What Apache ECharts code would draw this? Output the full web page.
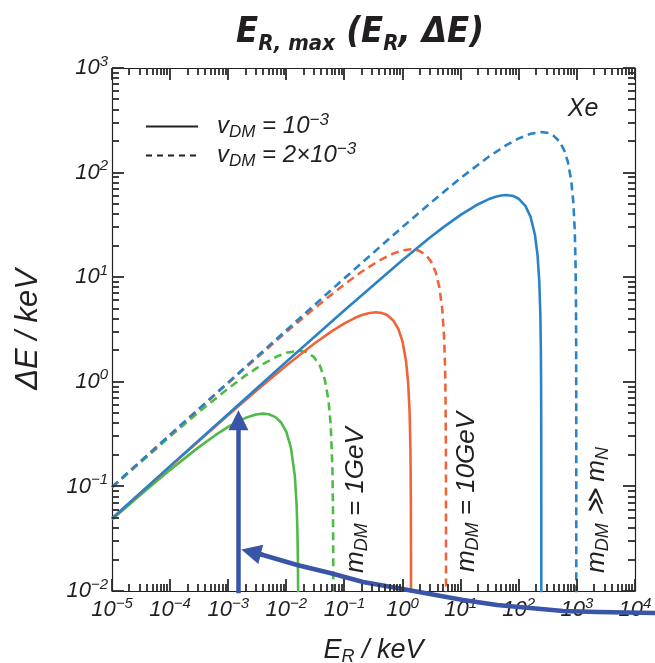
<!DOCTYPE html>
<html>
<head>
<meta charset="utf-8">
<script src="https://cdn.jsdelivr.net/npm/echarts@6/dist/echarts.min.js"></script>
<style>
  html, body { margin: 0; padding: 0; background: #ffffff; }
  #chart { width: 655px; height: 663px; }
</style>
</head>
<body>
<div id="chart"></div>
<script>
// Maximal energy deposit ΔE (keV) against nuclear recoil energy E_R (keV), Xe target.
// Each curve: [E_R, ΔE] pairs.

// m_DM >> m_N
const heavySlow = [[1e-5,0.0494],[1e-4,0.1562],[1e-3,0.4929],[1e-2,1.552],[0.1,4.839],[1,14.62],[3,24.05],[5,29.93],[10,39.39],[20,49.85],[30,55.55],[40,58.79],[50,60.45],[61,61.0],[80,59.7],[100,56.2],[130,48.1],[160,37.6],[190,25.3],[210,16.4],[225,9.3],[235,4.45],[240,1.98],[242,0.99],[243,0.49],[243.6,0.19],[243.9,0.04],[243.97,0.005]];
const heavyFast = [[1e-5,0.0988],[1e-4,0.3124],[1e-3,0.987],[1e-2,3.114],[0.1,9.779],[1,30.24],[3,51.11],[10,88.79],[30,141.1],[60,182.0],[100,212.4],[160,235.2],[244,244.0],[320,238.8],[400,224.8],[500,198.5],[600,165.2],[700,126.5],[800,83.6],[870,51.4],[920,27.5],[950,12.9],[965,5.45],[972,1.97],[975,0.47],[975.8,0.07],[975.93,0.005]];

// m_DM = 10 GeV
const m10Slow = [[1e-5,0.04927],[1e-4,0.1549],[1e-3,0.4807],[3e-3,0.816],[1e-2,1.430],[3e-2,2.309],[0.06,3.034],[0.1,3.619],[0.15,4.070],[0.2,4.345],[0.27,4.552],[0.35,4.621],[0.45,4.538],[0.55,4.324],[0.7,3.829],[0.85,3.181],[1.0,2.42],[1.15,1.571],[1.25,0.964],[1.32,0.522],[1.36,0.264],[1.38,0.133],[1.39,0.068],[1.397,0.021],[1.3995,0.005]];
const m10Fast = [[1e-5,0.0987],[1e-4,0.3111],[1e-3,0.9747],[1e-2,2.992],[3e-2,5.015],[0.1,8.559],[0.2,11.33],[0.4,14.48],[0.7,16.90],[1.0,18.04],[1.4,18.48],[1.9,17.98],[2.5,16.39],[3.1,14.08],[3.7,11.25],[4.3,8.02],[4.8,5.08],[5.2,2.60],[5.4,1.33],[5.5,0.667],[5.57,0.205],[5.595,0.04],[5.6,0.0073]];

// m_DM = 1 GeV
const m1Slow = [[1e-5,0.04817],[3e-5,0.08186],[1e-4,0.1439],[3e-4,0.2336],[6e-4,0.3088],[1e-3,0.3709],[1.5e-3,0.4205],[2e-3,0.4525],[3e-3,0.4865],[4e-3,0.4959],[5e-3,0.4895],[6.5e-3,0.4598],[8e-3,0.4131],[1e-2,0.332],[1.2e-2,0.2351],[1.4e-2,0.1262],[1.5e-2,0.068],[1.55e-2,0.0386],[1.58e-2,0.0201],[1.6e-2,0.0078]];
const m1Fast = [[1e-5,0.0976],[1e-4,0.3001],[3e-4,0.5042],[1e-3,0.8649],[2e-3,1.151],[4e-3,1.484],[7e-3,1.753],[1e-2,1.894],[1.6e-2,1.984],[2.2e-2,1.928],[3e-2,1.721],[3.8e-2,1.416],[4.6e-2,1.042],[5.3e-2,0.673],[5.8e-2,0.390],[6.2e-2,0.154],[6.35e-2,0.062],[6.42e-2,0.019],[6.44e-2,0.0066]];

// annotation arrows (data coordinates)
const upArrow = [[1.5e-3,0.0095],[1.5e-3,0.43]];
const sweepArrow = [[6e4,0.00616],[2.2e4,0.00616],[2228,0.0063],[578,0.00644],[156,0.00688],[42.3,0.00735],[11,0.0082],[2.97,0.00936],[0.804,0.01068],[0.209,0.01219],[0.0565,0.01486],[0.0153,0.01773],[3.97e-3,0.0221],[2.47e-3,0.0236]];

// axis decades (powers of ten) and minor multipliers
const xExponents = [-5,-4,-3,-2,-1,0,1,2,3,4];
const yExponents = [-2,-1,0,1,2,3];
const minorSteps = [2,3,4,5,6,7,8,9];

const FONT = '"Liberation Sans", Arial, Helvetica, sans-serif';
const NARROW = '"Liberation Sans Narrow", "DejaVu Sans Condensed", "Liberation Sans", sans-serif';
const INK = '#231f20';
const BLUE = '#2a82c7';
const RED = '#f0643a';
const GREEN = '#4fba47';
const ARROW = '#3a55a8';
const MAJOR_LEN = 12, MINOR_LEN = 7;

const majorsOf = exps => exps.map(e => Number('1e' + e));
const minorsOf = exps => {
  const out = [];
  for (let i = 0; i < exps.length - 1; i++) {
    minorSteps.forEach(m => out.push(Number(m + 'e' + exps[i])));
  }
  return out;
};
const xMajor = majorsOf(xExponents), xMinor = minorsOf(xExponents);
const yMajor = majorsOf(yExponents), yMinor = minorsOf(yExponents);

const GRID = { left: 112, top: 68, width: 523, height: 523 };

function powerLabel(v) {
  const e = Math.round(Math.log10(v));
  return '{b|10}{s|' + String(e).replace('-', '\u2212') + '}';
}
const tickRich = {
  b: { fontFamily: FONT, fontStyle: 'italic', fontSize: 22, lineHeight: 28, color: INK },
  s: { fontFamily: FONT, fontStyle: 'italic', fontSize: 15, lineHeight: 15, verticalAlign: 'top', color: INK }
};

function logAxis(kind, position, opts) {
  opts = opts || {};
  const majors = kind === 'x' ? xMajor : yMajor;
  const ax = {
    type: 'log', logBase: 10, position: position,
    min: majors[0], max: majors[majors.length - 1],
    axisLine: { show: true, lineStyle: { color: INK, width: 1.2 } },
    axisTick: { show: false },
    axisLabel: opts.labels ? {
      show: true, customValues: majors, margin: opts.margin, formatter: powerLabel, rich: tickRich
    } : { show: false },
    splitLine: { show: false },
    minorTick: { show: false },
    silent: true
  };
  if (opts.name) {
    ax.name = opts.name;
    ax.nameLocation = 'middle';
    ax.nameGap = opts.nameGap;
    ax.nameTextStyle = { rich: opts.nameRich };
  }
  return ax;
}

const xNameRich = {
  i: { fontFamily: FONT, fontStyle: 'italic', fontSize: 27, lineHeight: 32, color: INK },
  s: { fontFamily: FONT, fontStyle: 'italic', fontSize: 18, lineHeight: 18, verticalAlign: 'bottom', color: INK }
};
const yNameRich = {
  i: { fontFamily: FONT, fontStyle: 'italic', fontSize: 31, lineHeight: 36, color: INK }
};

const legendText = {
  'vDM = 1e-3': '{v|v}{s|DM}{v| = 10}{p|\u22123}',
  'vDM = 2e-3': '{v|v}{s|DM}{v| = 2\u00d710}{p|\u22123}'
};
const legendRich = {
  v: { fontFamily: FONT, fontStyle: 'italic', fontSize: 24, lineHeight: 29, color: INK },
  s: { fontFamily: FONT, fontStyle: 'italic', fontSize: 17, lineHeight: 16, verticalAlign: 'bottom', color: INK },
  p: { fontFamily: FONT, fontStyle: 'italic', fontSize: 17, lineHeight: 16, verticalAlign: 'top', color: INK }
};

const massRich = {
  m: { fontFamily: FONT, fontStyle: 'italic', fontSize: 26, lineHeight: 30, fill: INK },
  s: { fontFamily: FONT, fontStyle: 'italic', fontSize: 18, lineHeight: 17, verticalAlign: 'bottom', fill: INK }
};
const titleRich = {
  E: { fontFamily: NARROW, fontStyle: 'italic', fontWeight: 'bold', fontSize: 36, lineHeight: 44, fill: INK },
  s: { fontFamily: NARROW, fontStyle: 'italic', fontWeight: 'bold', fontSize: 22, lineHeight: 29, verticalAlign: 'bottom', fill: INK }
};

function curve(name, data, color, dashed) {
  return {
    type: 'line', name: name, data: data, xAxisIndex: 0, yAxisIndex: 0,
    showSymbol: false, symbol: 'none', clip: true, silent: true,
    lineStyle: { color: color, width: 2.6, type: dashed ? [8, 5] : 'solid' },
    z: 3
  };
}
const arrowLine = { color: ARROW, width: 4.5, opacity: 1, curveness: 0 };
// straight shaft with a head at its end
function straightArrow(coords) {
  return {
    type: 'lines', coordinateSystem: 'cartesian2d', xAxisIndex: 0, yAxisIndex: 0,
    clip: false, silent: true, symbol: ['none', 'triangle'], symbolSize: 20,
    lineStyle: arrowLine, data: [{ coords: coords }], z: 6
  };
}
// curved body drawn as a polyline
function polyBody(coords) {
  return {
    type: 'lines', coordinateSystem: 'cartesian2d', xAxisIndex: 0, yAxisIndex: 0,
    polyline: true, clip: false, silent: true,
    lineStyle: arrowLine, data: [{ coords: coords }], z: 6
  };
}

const textGraphic = [
  { type: 'text', id: 'title', x: 360, y: 33, silent: true,
    style: { text: '{E|E}{s|R, max}{E| (E}{s|R}{E|, \u0394E)}', rich: titleRich, align: 'center', verticalAlign: 'middle' } },
  { type: 'text', id: 'target', x: 583, y: 109, silent: true,
    style: { text: 'Xe', fontFamily: FONT, fontStyle: 'italic', fontSize: 25, fill: INK, align: 'center', verticalAlign: 'middle' } },
  { type: 'text', id: 'm1', x: 356, y: 500, rotation: Math.PI / 2, silent: true,
    style: { text: '{m|m}{s|DM}{m| = 1GeV}', rich: massRich, align: 'center', verticalAlign: 'middle' } },
  { type: 'text', id: 'm10', x: 467, y: 492, rotation: Math.PI / 2, silent: true,
    style: { text: '{m|m}{s|DM}{m| = 10GeV}', rich: massRich, align: 'center', verticalAlign: 'middle' } },
  { type: 'text', id: 'mheavy', x: 597, y: 510, rotation: Math.PI / 2, silent: true,
    style: { text: '{m|m}{s|DM}{m| \u226b m}{s|N}', rich: massRich, align: 'center', verticalAlign: 'middle' } }
];

const chart = echarts.init(document.getElementById('chart'), null, { renderer: 'canvas' });
chart.setOption({
  backgroundColor: '#ffffff',
  animation: false,
  grid: Object.assign({ containLabel: false, outerBoundsMode: 'none' }, GRID),
  xAxis: [
    logAxis('x', 'bottom', { labels: true, margin: 5, name: '{i|E}{s|R}{i| / keV}', nameGap: 43, nameRich: xNameRich }),
    logAxis('x', 'top')
  ],
  yAxis: [
    logAxis('y', 'left', { labels: true, margin: 4, name: '{i|\u0394E / keV}', nameGap: 66, nameRich: yNameRich }),
    logAxis('y', 'right')
  ],
  legend: {
    orient: 'vertical', left: 140, top: 107, itemWidth: 52, itemHeight: 14, itemGap: 0,
    selectedMode: false,
    data: ['vDM = 1e-3', 'vDM = 2e-3'],
    formatter: name => legendText[name],
    itemStyle: { opacity: 0 },
    textStyle: { padding: [0, 0, 0, 14], rich: legendRich }
  },
  series: [
    { type: 'line', name: 'vDM = 1e-3', data: [], symbol: 'none', lineStyle: { color: INK, width: 1 }, itemStyle: { color: INK, opacity: 0 } },
    { type: 'line', name: 'vDM = 2e-3', data: [], symbol: 'none', lineStyle: { color: INK, width: 1, type: [6, 5] }, itemStyle: { color: INK, opacity: 0 } },
    curve('1 GeV fast', m1Fast, GREEN, true),
    curve('1 GeV slow', m1Slow, GREEN, false),
    curve('10 GeV fast', m10Fast, RED, true),
    curve('10 GeV slow', m10Slow, RED, false),
    curve('heavy fast', heavyFast, BLUE, true),
    curve('heavy slow', heavySlow, BLUE, false),
    straightArrow(upArrow),
    polyBody(sweepArrow),
    straightArrow(sweepArrow.slice(-2))
  ],
  graphic: textGraphic
});

// Inward frame ticks on all four sides, placed through the axes' own scales.
const gTop = GRID.top, gBottom = GRID.top + GRID.height;
const gLeft = GRID.left, gRight = GRID.left + GRID.width;
const tickStyle = { stroke: '#2b2b2b', lineWidth: 1.8 };
const tickGraphic = [];
function toPx(axisKey, v) {
  const p = chart.convertToPixel(axisKey, v);
  return Math.round(Array.isArray(p) ? p[0] : p);
}
function addXTicks(vals, len) {
  vals.forEach(v => {
    const x = toPx({ xAxisIndex: 0 }, v);
    tickGraphic.push({ type: 'line', silent: true, z: 50, shape: { x1: x, y1: gBottom, x2: x, y2: gBottom - len }, style: tickStyle });
    tickGraphic.push({ type: 'line', silent: true, z: 50, shape: { x1: x, y1: gTop, x2: x, y2: gTop + len }, style: tickStyle });
  });
}
function addYTicks(vals, len) {
  vals.forEach(v => {
    const y = toPx({ yAxisIndex: 0 }, v);
    tickGraphic.push({ type: 'line', silent: true, z: 50, shape: { x1: gLeft, y1: y, x2: gLeft + len, y2: y }, style: tickStyle });
    tickGraphic.push({ type: 'line', silent: true, z: 50, shape: { x1: gRight, y1: y, x2: gRight - len, y2: y }, style: tickStyle });
  });
}
addXTicks(xMajor, MAJOR_LEN); addXTicks(xMinor, MINOR_LEN);
addYTicks(yMajor, MAJOR_LEN); addYTicks(yMinor, MINOR_LEN);
chart.setOption({ graphic: textGraphic.concat(tickGraphic) });
</script>
</body>
</html>
